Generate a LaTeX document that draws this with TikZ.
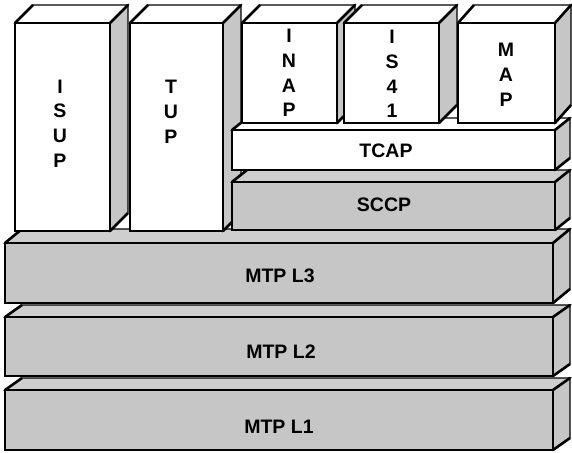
\documentclass[tikz,border=0pt]{standalone}
\usepackage{fontspec}
\setmainfont{Liberation Sans}
\definecolor{boxgray}{RGB}{198,198,198}
\definecolor{topgray}{RGB}{206,206,206}
\newcommand{\blockthree}[9]{%
  \filldraw[fill=#8,edgeline] (#1,#2) -- (#1+#5,#2-#6) -- (#3+#5,#2-#6) -- (#3,#2) -- cycle;
  \filldraw[fill=#9,edgeline] (#3,#2) -- (#3+#5,#2-#6) -- (#3+#5,#4-#6) -- (#3,#4) -- cycle;
  \filldraw[fill=#7,edgeline] (#1,#2) rectangle (#3,#4);
  \draw[diagline] (#1,#2) -- (#1+#5,#2-#6);
  \draw[diagline] (#3,#2) -- (#3+#5,#2-#6);
  \draw[diagline] (#3,#4) -- (#3+#5,#4-#6);
}
\begin{document}
\begin{tikzpicture}[x=1pt,y=-1pt,
  edgeline/.style={draw=black,line width=1.3pt,line join=miter},
  diagline/.style={draw=black,line width=2.6pt,line cap=butt},
  lbl/.style={font=\bfseries\fontsize{19.5}{24.8}\selectfont,align=center,inner sep=0pt}]
\useasboundingbox (0,0) rectangle (572,452);
\fill[white] (0,0) rectangle (572,452);
% lower layers
\blockthree{5}{390}{553}{450}{17}{12}{boxgray}{topgray}{boxgray}
\blockthree{5}{317}{553}{376}{17}{12}{boxgray}{topgray}{boxgray}
\blockthree{5}{243}{553}{303}{17}{14}{boxgray}{topgray}{boxgray}
% left columns
\blockthree{15}{23}{110}{231}{18}{18}{white}{white}{boxgray}
\blockthree{130}{23}{223}{231}{18}{18}{white}{white}{boxgray}
% SCCP / TCAP
\blockthree{232}{182}{555}{230}{15}{12}{boxgray}{topgray}{boxgray}
\blockthree{232}{130}{555}{170}{15}{12}{white}{white}{boxgray}
% top columns
\blockthree{242}{23}{337}{123}{18}{18}{white}{white}{boxgray}
\blockthree{344}{23}{439}{123}{18}{18}{white}{white}{boxgray}
\blockthree{458}{23}{555}{123}{16}{18}{white}{white}{boxgray}
% labels
\node[lbl] (isup) at (60,123.5) {I\\S\\U\\P};
\node[lbl] (tup) at (171,111.5) {T\\U\\P};
\node[lbl] (inap) at (289,73) {I\\N\\A\\P};
\node[lbl] (is41) at (392,74) {I\\S\\4\\1};
\node[lbl] (map) at (506,75) {M\\A\\P};
\node[lbl] (tcap) at (386,151) {TCAP};
\node[lbl] (sccp) at (384,205) {SCCP};
\node[lbl] (l3) at (280,275.5) {MTP L3};
\node[lbl] (l2) at (281,351.5) {MTP L2};
\node[lbl] (l1) at (279,426.5) {MTP L1};
\end{tikzpicture}
\end{document}
